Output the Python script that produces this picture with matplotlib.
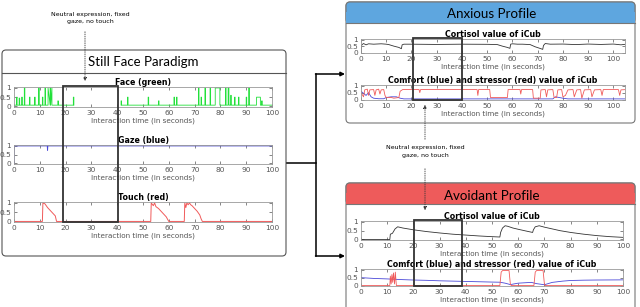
import numpy as np
import matplotlib
matplotlib.use('Agg')
import matplotlib.pyplot as plt
from matplotlib.patches import FancyBboxPatch, Rectangle

W, H = 640, 307

# ---- data ----
# Still face paradigm, face detection (green): baseline + spikes
face_base = 0.07
face_spk_t = [1.0, 2.0, 3.0, 4.0, 6.0, 8.0, 9.5, 11.0, 12.0, 13.2, 14.0, 17.0, 23.0,
              41.5, 44.0, 52.0, 56.0, 62.0, 63.0, 71.5, 72.5, 74.0, 76.0, 78.0, 82.0,
              83.0, 84.0, 85.5, 87.0, 90.0, 91.0, 94.0, 96.0]
face_spk_h = [0.5, 0.45, 0.5, 1.0, 0.5, 0.5, 1.0, 0.5, 1.0, 1.0, 1.0, 0.3, 0.5,
              0.3, 0.5, 0.5, 0.3, 0.5, 0.5, 1.0, 0.5, 1.0, 1.0, 1.0, 1.0,
              1.0, 0.6, 0.5, 0.5, 0.5, 1.0, 0.5, 0.3]
face_spk_w = [0.2, 0.2, 0.2, 0.2, 0.2, 0.2, 0.3, 0.2, 0.2, 1.5, 0.2, 0.2, 0.2,
              0.2, 0.2, 0.2, 0.2, 0.2, 0.2, 0.2, 0.2, 0.2, 0.2, 1.8, 0.2,
              0.3, 0.2, 0.2, 0.2, 0.2, 0.2, 1.5, 0.2]
face_gaps = [(24.5, 28.5), (39.6, 41.0)]

gaze_t = [0, 0, 12.9, 13.0, 13.1, 100]
gaze_v = [0, 1, 1, 0.75, 1, 1]

touch_t = [0, 11, 11.2, 12, 13, 14, 15, 16, 16.5, 53, 53.2, 54, 54.5, 55, 56, 57, 58, 59, 60,
           66, 66.2, 66.6, 67, 67.5, 68, 68.5, 69, 70, 71, 72, 72.5, 73, 100]
touch_v = [0, 0, 1, 0.95, 0.75, 0.6, 0.45, 0.3, 0, 0, 1, 0.85, 1, 0.8, 0.7, 0.55, 0.4, 0.25, 0,
           0, 1, 0.75, 1, 0.9, 1, 0.9, 0.85, 0.7, 0.55, 0.35, 0.15, 0, 0]

# Anxious profile
anx_cort_t = [0, 0.3, 1, 2, 3, 5, 8, 10, 11, 13, 15, 16, 16.3, 17, 20, 30, 40, 50, 54, 56, 58,
              59, 59.3, 60, 62, 64, 67, 69, 71, 72, 72.3, 73, 75, 80, 85, 90, 95, 100, 103, 105]
anx_cort_v = [0, 0.6, 0.7, 0.6, 0.68, 0.65, 0.68, 0.65, 0.62, 0.5, 0.4, 0.3, 0.6, 0.65, 0.65,
              0.63, 0.65, 0.64, 0.62, 0.5, 0.4, 0.33, 0.65, 0.68, 0.65, 0.65, 0.62, 0.45, 0.32,
              0.25, 0.55, 0.7, 0.65, 0.66, 0.62, 0.66, 0.63, 0.66, 0.6, 0.65]
anx_str_t = [0, 1, 1.5, 2.5, 3, 3.5, 5, 5.5, 6, 7, 7.5, 8, 9, 9.5, 10, 12, 13, 15, 15.5, 16.5,
             23, 23.3, 23.6, 46, 46.3, 46.6, 51, 51.3, 58, 58.3, 63, 63.3, 63.6, 68, 68.3, 71,
             71.3, 73, 73.5, 74, 76, 76.5, 77.5, 78, 79.5, 80, 81, 82, 84, 84.5, 85.5, 87, 87.5,
             88.5, 91, 91.5, 92.5, 95, 95.5, 96, 102, 102.5, 103, 105]
anx_str_v = [0.5, 0.2, 0.7, 0.75, 0.3, 0.7, 0.72, 0.3, 0.7, 0.75, 0.4, 0.7, 0.72, 0.3, 0.15,
             0.15, 0.1, 0.15, 0.6, 0.72, 0.72, 0.5, 0.72, 0.72, 0.3, 0.72, 0.72, 0.15, 0.15,
             0.72, 0.72, 0.4, 0.72, 0.72, 0.1, 0.1, 0.7, 0.72, 0.2, 0.7, 0.72, 0.15, 0.15, 0.7,
             0.72, 0.2, 0.3, 0.7, 0.72, 0.2, 0.7, 0.72, 0.1, 0.7, 0.72, 0.2, 0.7, 0.72, 0.3,
             0.72, 0.72, 0.3, 0.7, 0.72]
anx_com_t = [0, 1, 2, 3, 4, 5, 7, 9, 10, 12, 14, 15.5, 17, 76, 77, 80, 82, 105]
anx_com_v = [0.6, 0.45, 0.3, 0.5, 0.2, 0.1, 0.06, 0.06, 0.15, 0.2, 0.2, 0.1, 0.05, 0.05,
             0.2, 0.1, 0.05, 0.05]

# Avoidant profile
avo_cort_t = [0, 11, 11.2, 12, 13, 14, 16, 20, 25, 30, 35, 40, 45, 50, 53, 53.3, 54, 55, 56,
              58, 60, 63, 65.5, 65.8, 66.5, 68, 70, 73, 76, 80, 85, 90, 95, 100]
avo_cort_v = [0, 0, 0.3, 0.35, 0.6, 0.72, 0.65, 0.55, 0.45, 0.37, 0.3, 0.25, 0.2, 0.16, 0.14,
              0.4, 0.65, 0.78, 0.75, 0.65, 0.58, 0.48, 0.4, 0.55, 0.72, 0.78, 0.7, 0.6, 0.5,
              0.4, 0.3, 0.22, 0.16, 0.12]
avo_com_t = [0, 5, 10, 15, 20, 25, 30, 35, 40, 45, 50, 53, 55, 57, 60, 65, 67, 70, 73, 77,
             80, 85, 90, 100]
avo_com_v = [0.5, 0.45, 0.42, 0.38, 0.35, 0.33, 0.3, 0.28, 0.26, 0.24, 0.22, 0.21, 0.15,
             0.06, 0.15, 0.2, 0.12, 0.05, 0.2, 0.28, 0.32, 0.34, 0.35, 0.36]
avo_str_t = [0, 11, 11.2, 11.5, 11.8, 12.1, 12.4, 12.8, 13.1, 13.5, 53, 53.5, 54, 56.5, 57,
             57.3, 66, 66.5, 67, 69.5, 70, 70.3, 100]
avo_str_v = [0, 0, 0.6, 0.1, 0.7, 0.2, 0.8, 0.1, 0.85, 0, 0, 0.85, 0.95, 0.95, 0.1, 0, 0,
             0.85, 0.95, 0.95, 0.1, 0, 0]

# still-face windows as drawn in each panel (seconds)
win_left = (19, 40.3)
win_anx = (20.6, 40)
win_avo = (20.2, 38.5)

GREEN = '#22e03a'
BLUE = '#4a48d8'
RED = '#f05a5a'
HDR_BLUE = '#5ea6df'
HDR_RED = '#ee5b5b'
TICK_C = '#555555'
HEAD_FONT = ['Lato', 'DejaVu Sans']


def px(x, y, w, h):
    return [x / W, 1 - (y + h) / H, w / W, h / H]


def style(ax, title, xmax):
    ax.set_xlim(0, xmax)
    ax.set_ylim(-0.03, 1.05)
    ax.set_yticks([0, 0.5, 1])
    ax.set_yticklabels(['0', '0.5', '1'])
    ax.set_xticks(range(0, 101, 10))
    ax.tick_params(direction='in', length=2, width=0.5, top=True, right=True,
                   labelsize=5.3, colors=TICK_C, pad=2)
    for s in ax.spines.values():
        s.set_color('#999999')
        s.set_linewidth(0.6)
    ax.set_title(title, fontsize=5.7, fontweight='bold', pad=1.5)
    ax.set_xlabel('Interaction time (in seconds)', fontsize=5.2, color=TICK_C, labelpad=1)


fig = plt.figure(figsize=(6.4, 3.07), dpi=100)

# background layer for the panels
bg = fig.add_axes([0, 0, 1, 1], zorder=-1)
bg.set_xlim(0, W)
bg.set_ylim(H, 0)
bg.axis('off')

bg.add_patch(FancyBboxPatch((2, 50), 284, 206, boxstyle='round,pad=0,rounding_size=4',
                            fc='white', ec='#555555', lw=0.8))
bg.plot([2, 286], [73, 73], color='#555555', lw=0.8)
bg.text(143, 62, 'Still Face Paradigm', ha='center', va='center', fontsize=9.5,
        family=HEAD_FONT)

for (y0, y1, col, name) in [(2, 123, HDR_BLUE, 'Anxious Profile'),
                            (183, 320, HDR_RED, 'Avoidant Profile')]:
    bg.add_patch(FancyBboxPatch((346, y0), 289, y1 - y0, boxstyle='round,pad=0,rounding_size=4',
                                fc='white', ec='#777777', lw=0.8))
    bg.add_patch(FancyBboxPatch((346, y0), 289, 21, boxstyle='round,pad=0,rounding_size=4',
                                fc=col, ec='#777777', lw=0.8))
    bg.add_patch(Rectangle((346.4, y0 + 10), 288.2, 11, fc=col, ec='none'))
    bg.plot([346, 635], [y0 + 21, y0 + 21], color='#777777', lw=0.8)
    bg.text(492, y0 + 12.5, name, ha='center', va='center', fontsize=9.6,
            family=HEAD_FONT)

# ---- still face paradigm plots ----
pts = []
for t, h, w in zip(face_spk_t, face_spk_h, face_spk_w):
    pts += [(t, face_base), (t, h), (t + w, h), (t + w, face_base)]
face_t = np.array([0] + [p[0] for p in pts] + [100], dtype=float)
face_v = np.array([face_base] + [p[1] for p in pts] + [face_base], dtype=float)
for g0, g1 in face_gaps:
    face_v[(face_t > g0) & (face_t < g1)] = np.nan
    face_t = np.append(face_t, [g0, g1])
    face_v = np.append(face_v, [np.nan, np.nan])
order = np.argsort(face_t, kind='stable')

ax_face = fig.add_axes(px(14, 87, 258, 20))
ax_face.plot(face_t[order], face_v[order], color=GREEN, lw=0.6)
style(ax_face, 'Face (green)', 100)

ax_gaze = fig.add_axes(px(14, 145, 258, 19))
ax_gaze.plot(gaze_t, gaze_v, color=BLUE, lw=0.7)
style(ax_gaze, 'Gaze (blue)', 100)

ax_touch = fig.add_axes(px(14, 202, 258, 20))
ax_touch.plot(touch_t, touch_v, color=RED, lw=0.7)
style(ax_touch, 'Touch (red)', 100)

# ---- anxious ----
ax_ac = fig.add_axes(px(361, 39, 264, 14))
ax_ac.plot(anx_cort_t, anx_cort_v, color='#333333', lw=0.6)
style(ax_ac, 'Cortisol value of iCub', 104.6)

ax_as = fig.add_axes(px(361, 85, 264, 15))
ax_as.plot(anx_com_t, anx_com_v, color=BLUE, lw=0.6)
ax_as.plot(anx_str_t, anx_str_v, color=RED, lw=0.6)
style(ax_as, 'Comfort (blue) and stressor (red) value of iCub', 104.6)

# ---- avoidant ----
ax_vc = fig.add_axes(px(361, 221, 262, 19))
ax_vc.plot(avo_cort_t, avo_cort_v, color='#333333', lw=0.6)
style(ax_vc, 'Cortisol value of iCub', 100)

ax_vs = fig.add_axes(px(361, 269, 262, 17))
ax_vs.plot(avo_com_t, avo_com_v, color=BLUE, lw=0.6)
ax_vs.plot(avo_str_t, avo_str_v, color=RED, lw=0.6)
style(ax_vs, 'Comfort (blue) and stressor (red) value of iCub', 100)

# ---- overlay: windows, connectors, notes ----
fg = fig.add_axes([0, 0, 1, 1], zorder=10)
fg.set_xlim(0, W)
fg.set_ylim(H, 0)
fg.axis('off')
fg.patch.set_alpha(0)


def window(ax_top, ax_bot, win):
    xa = ax_top.transData.transform((win[0], 1))[0]
    xb = ax_top.transData.transform((win[1], 1))[0]
    yt = H - ax_top.transAxes.transform((0, 1))[1]
    yb = H - ax_bot.transAxes.transform((0, 0))[1]
    fg.add_patch(Rectangle((xa, yt - 1), xb - xa, yb - yt + 1, fill=False, ec='#333333', lw=1.3))


window(ax_face, ax_touch, win_left)
window(ax_ac, ax_as, win_anx)
window(ax_vc, ax_vs, win_avo)

note = 'Neutral expression, fixed\ngaze, no touch'
fg.text(90, 18, note, ha='center', va='center', fontsize=4.5, linespacing=1.5)
fg.annotate('', xy=(85, 84), xytext=(85, 29),
            arrowprops=dict(arrowstyle='-|>', color='#333333', lw=0.6, ls=':',
                            mutation_scale=5))
fg.text(425, 151.5, note, ha='center', va='center', fontsize=4.5, linespacing=1.5)
fg.annotate('', xy=(425, 102), xytext=(425, 142),
            arrowprops=dict(arrowstyle='-|>', color='#333333', lw=0.6, ls=':',
                            mutation_scale=5))
fg.annotate('', xy=(425, 213), xytext=(425, 166),
            arrowprops=dict(arrowstyle='-|>', color='#333333', lw=0.6, ls=':',
                            mutation_scale=5))

fg.plot([287, 316], [163, 163], color='black', lw=1.1)
fg.plot([316, 316], [74, 256], color='black', lw=1.1)
for yy in (74, 256):
    fg.annotate('', xy=(345, yy), xytext=(315.5, yy),
                arrowprops=dict(arrowstyle='-|>', color='black', lw=1.1, mutation_scale=6,
                                shrinkA=0, shrinkB=0))

fig.savefig('out.png', dpi=100)
